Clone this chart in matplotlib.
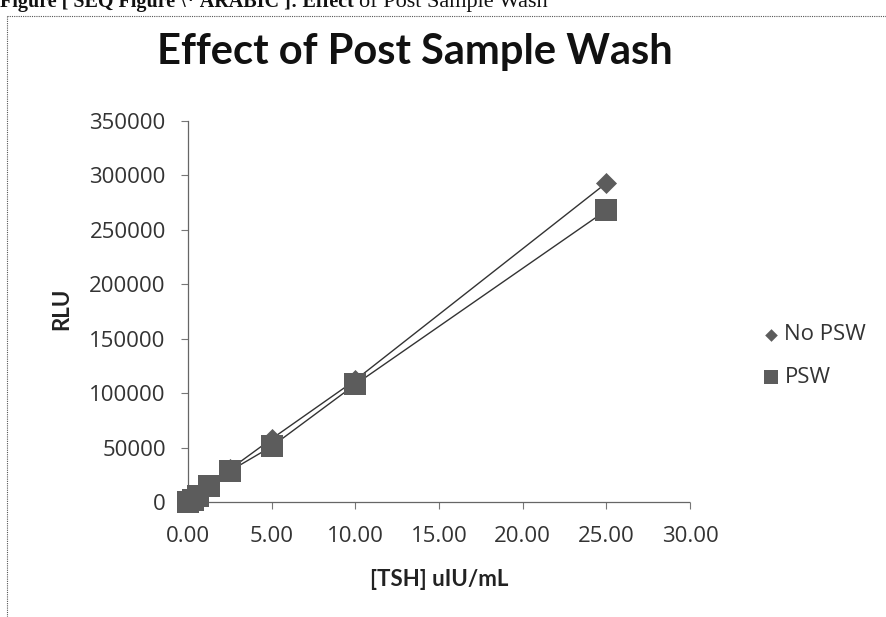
import matplotlib
matplotlib.use("Agg")
import matplotlib.pyplot as plt
from matplotlib.lines import Line2D

tsh = [0.0, 0.3125, 0.625, 1.25, 2.5, 5.0, 10.0, 25.0]
no_psw = [300, 2500, 6000, 15500, 30000, 58000, 112000, 293000]
psw = [200, 2200, 5500, 15000, 28500, 51000, 108000, 268000]
xticks = [0, 5, 10, 15, 20, 25, 30]
yticks = [0, 50000, 100000, 150000, 200000, 250000, 300000, 350000]

W, H = 886, 617
fig = plt.figure(figsize=(W / 100, H / 100), dpi=100)
fig.patch.set_facecolor("white")

X0, X1, Y0, Y1 = 188, 690, 502, 121
ax = fig.add_axes([X0 / W, 1 - Y0 / H, (X1 - X0) / W, (Y0 - Y1) / H])
ax.set_xlim(0, 30)
ax.set_ylim(0, 350000)

mcol = "#5c5c5c"
ax.plot(tsh, no_psw, color="#333333", lw=1.0, zorder=2, clip_on=False)
ax.plot(tsh, psw, color="#333333", lw=1.0, zorder=2, clip_on=False)
ax.scatter(tsh, no_psw, marker="D", s=115, color=mcol, linewidths=0, zorder=3, clip_on=False, label="No PSW")
ax.scatter(tsh, psw, marker="s", s=250, color=mcol, linewidths=0, zorder=4, clip_on=False, label="PSW")

for s in ["top", "right"]:
    ax.spines[s].set_visible(False)
for s in ["left", "bottom"]:
    ax.spines[s].set_color("#666666")
    ax.spines[s].set_linestyle((0, (1, 1)))
    ax.spines[s].set_linewidth(0.9)

ax.set_xticks(xticks)
ax.set_xticklabels([f"{v:.2f}" for v in xticks])
ax.set_yticks(yticks)
ax.set_yticklabels([str(v) for v in yticks])
ax.tick_params(axis="both", direction="out", length=5, width=0.8, color="#777777",
               labelsize=16, labelcolor="#333333")
ax.tick_params(axis="x", pad=12)
ax.tick_params(axis="y", pad=11)
for lab in ax.get_xticklabels() + ax.get_yticklabels():
    lab.set_family("Open Sans")

ax.set_xlabel("[TSH] uIU/mL", fontsize=16, fontweight="bold", family="Lato", labelpad=16,
              color="#222222")
ax.set_ylabel("RLU", fontsize=16, fontweight="bold", family="Lato",
              color="#222222")
ax.yaxis.set_label_coords(72 / W, 0.5, transform=fig.transFigure)

fig.text(415 / W, 1 - 52 / H, "Effect of Post Sample Wash", ha="center", va="center",
         fontsize=30, fontweight="bold", family="Lato", color="#111111")

leg = ax.legend(loc="center left", bbox_to_anchor=(740 / W, 1 - 356 / H),
                bbox_transform=fig.transFigure, frameon=False,
                handletextpad=0.1, labelspacing=0.95, markerscale=0.6, handlelength=1.0,
                prop={"family": "Open Sans", "size": 16})
for t in leg.get_texts():
    t.set_color("#333333")

# outer dotted border
fig.add_artist(Line2D([7 / W, 7 / W], [0, 1 - 16 / H], transform=fig.transFigure,
                      color="#555555", lw=0.8, linestyle=(0, (1, 1))))
fig.add_artist(Line2D([7 / W, 1], [1 - 16 / H, 1 - 16 / H], transform=fig.transFigure,
                      color="#555555", lw=0.8, linestyle=(0, (1, 1))))

# caption clipped at top edge
t1 = fig.text(0, 1 - 7 / H, "Figure [ SEQ Figure \\* ARABIC ]: Effect", ha="left",
              va="baseline", fontsize=14.5, fontweight="bold", family="Liberation Serif",
              color="#111111")
fig.canvas.draw()
bb = t1.get_window_extent()
fig.text((bb.x1 + 5) / W, 1 - 7 / H, "of Post Sample Wash", ha="left", va="baseline",
         fontsize=16, family="Liberation Serif", color="#111111")

fig.savefig("out.png", dpi=100, facecolor="white")
